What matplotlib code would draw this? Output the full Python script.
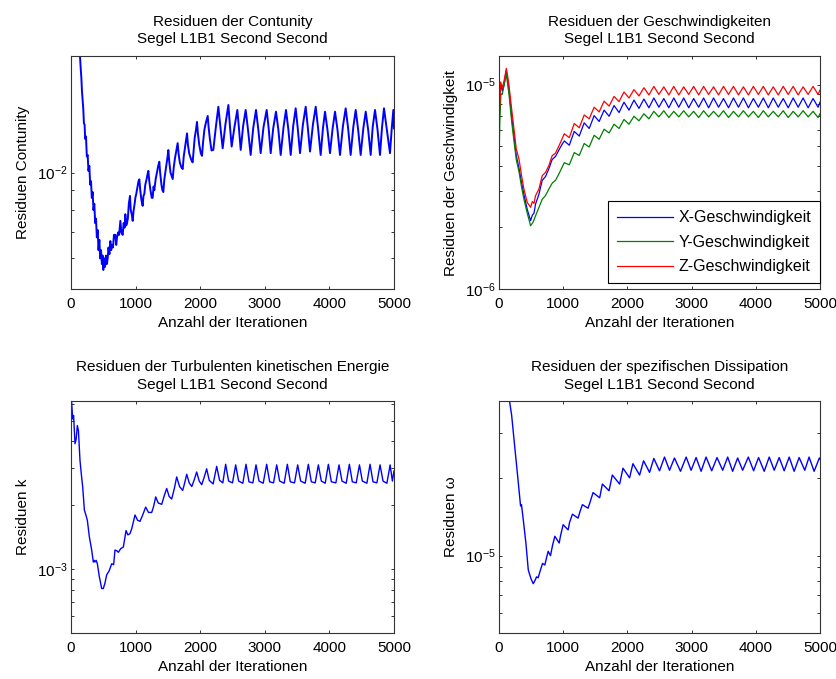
import matplotlib
matplotlib.use("Agg")
import matplotlib.pyplot as plt
from matplotlib.ticker import LogLocator, LogFormatterMathtext, NullFormatter

plt.rcParams["font.family"] = ["Liberation Sans", "DejaVu Sans"]
plt.rcParams["font.size"] = 11
plt.rcParams["axes.unicode_minus"] = False

# continuity residuals (panel 1)
cont_iter = [100, 139, 150, 160, 170, 180, 190, 200, 210, 220, 232, 245, 258, 270, 284, 297,
             310, 322, 335, 348, 361, 374, 387, 400, 413, 426, 439, 452, 465, 478, 490, 500,
             512, 525, 542, 555, 568, 580, 595, 609, 622, 635, 650, 665, 686, 700, 712, 730,
             745, 764, 780, 800, 815, 830, 841, 855, 867, 880, 895, 913, 925, 940, 955, 970,
             985, 996, 1010, 1030, 1045, 1058, 1072, 1090, 1109, 1122, 1135, 1150, 1170, 1185,
             1197, 1212, 1230, 1250, 1264, 1278, 1290, 1310, 1330, 1350, 1367, 1380, 1400, 1415,
             1429, 1445, 1460, 1480, 1495, 1507, 1520, 1540, 1558, 1574, 1590, 1610, 1630, 1651,
             1665, 1685, 1710, 1729, 1745, 1765, 1780, 1796, 1810, 1830, 1860, 1883, 1900, 1915,
             1935, 1950, 1965, 1985, 2010, 2028, 2045, 2065, 2090, 2116, 2130, 2150, 2175,
             2203, 2240, 2281, 2315, 2348, 2390, 2436, 2460, 2487, 2530, 2575, 2600, 2627, 2665,
             2704, 2740, 2781, 2820, 2864, 2900, 2936, 2980, 3029, 3060, 3091, 3130, 3173, 3210,
             3246, 3290, 3328, 3365, 3401, 3440, 3478, 3510, 3545, 3590, 3633, 3665, 3700, 3745,
             3788, 3825, 3865, 3900, 3932, 3970, 4009, 4050, 4087, 4125, 4164, 4210, 4252, 4290,
             4329, 4370, 4407, 4445, 4484, 4525, 4562, 4600, 4639, 4670, 4706, 4745, 4783, 4815,
             4845, 4890, 4938, 4965, 4990, 5000]
cont_val = [0.0260, 0.0200, 0.0186, 0.0176, 0.0162, 0.0154, 0.0146, 0.0134, 0.0133, 0.0122,
            0.0124, 0.0110, 0.0111, 0.0101, 0.0104, 0.0093, 0.0095, 0.0086, 0.0089, 0.0080,
            0.0083, 0.0074, 0.0076, 0.0068, 0.0071, 0.0063, 0.0067, 0.0060, 0.0063, 0.0058,
            0.0061, 0.0056, 0.0060, 0.0057, 0.0061, 0.0058, 0.0060, 0.0064, 0.00615, 0.00665,
            0.0063, 0.0065, 0.0064, 0.0069, 0.0069, 0.0065, 0.0068, 0.0070, 0.0069, 0.0075,
            0.0070, 0.0069, 0.0074, 0.0072, 0.0078, 0.0073, 0.0074, 0.0076, 0.0083, 0.0087,
            0.0080, 0.0078, 0.0075, 0.0080, 0.0083, 0.0086, 0.0088, 0.0092, 0.0095, 0.0096,
            0.0090, 0.0085, 0.0082, 0.0087, 0.0088, 0.0093, 0.0096, 0.0099, 0.0101, 0.0095,
            0.0090, 0.0086, 0.0086, 0.0092, 0.0090, 0.0096, 0.0100, 0.0104, 0.01066, 0.0100,
            0.0093, 0.0090, 0.0089, 0.0096, 0.0100, 0.0106, 0.0110, 0.01143, 0.0107, 0.0100,
            0.0098, 0.00962, 0.0103, 0.0109, 0.0114, 0.01191, 0.0112, 0.0106, 0.0103, 0.01021,
            0.0110, 0.0116, 0.0121, 0.01262, 0.0118, 0.0112, 0.0108, 0.01062, 0.0115, 0.0123,
            0.0129, 0.01351, 0.0126, 0.0118, 0.0112, 0.01104, 0.0120, 0.0129, 0.0135, 0.0140,
            0.0131, 0.0122, 0.0114,
            0.01144, 0.0130, 0.01479, 0.0130, 0.01155, 0.0133, 0.01494, 0.0132, 0.01167, 0.0131,
            0.01451, 0.0130, 0.01144, 0.0132, 0.01451, 0.0129, 0.01110, 0.0130, 0.01451, 0.0129,
            0.01122, 0.0131, 0.01451, 0.0130, 0.01122, 0.0130, 0.01436, 0.0129, 0.01110, 0.0131,
            0.01451, 0.0129, 0.01110, 0.0132, 0.01465, 0.0130, 0.01122, 0.0133, 0.01479, 0.0131,
            0.01133, 0.0133, 0.01479, 0.0130, 0.01110, 0.0130, 0.01436, 0.0129, 0.01122, 0.0130,
            0.01436, 0.0129, 0.01110, 0.0132, 0.01465, 0.0130, 0.01110, 0.0131, 0.01451, 0.0129,
            0.01110, 0.0130, 0.01436, 0.0129, 0.01110, 0.0131, 0.01451, 0.0129, 0.01110, 0.0131,
            0.01465, 0.0129, 0.01122, 0.0130, 0.01451, 0.0130]

# velocity residuals (panel 2): start-up part
vx_iter = [0, 26, 52, 80, 114, 135, 155, 197, 233, 269, 311, 352, 388, 440, 492, 520, 545,
           569, 621, 673, 725, 776, 828, 880, 958]
vx_val = [8.0e-6, 1.0e-5, 9.3e-6, 1.0e-5, 1.17e-5, 1.05e-5, 9.5e-6, 7.0e-6, 5.6e-6, 4.5e-6,
          3.9e-6, 3.3e-6, 2.9e-6, 2.45e-6, 2.16e-6, 2.3e-6, 2.35e-6, 2.6e-6, 2.9e-6, 3.4e-6,
          3.55e-6, 3.87e-6, 4.3e-6, 4.45e-6, 4.95e-6]
vy_iter = [0, 12, 30, 52, 80, 114, 135, 155, 197, 233, 269, 311, 352, 388, 440, 492, 530,
           569, 621, 673, 720, 776, 830, 880, 932]
vy_val = [4.0e-6, 6.5e-6, 9.0e-6, 9.0e-6, 1.0e-5, 1.13e-5, 1.0e-5, 9.0e-6, 6.6e-6, 5.3e-6,
          4.3e-6, 3.75e-6, 3.15e-6, 2.75e-6, 2.35e-6, 2.04e-6, 2.12e-6, 2.28e-6, 2.5e-6,
          2.75e-6, 2.85e-6, 3.08e-6, 3.3e-6, 3.4e-6, 3.65e-6]
vz_iter = [0, 26, 52, 80, 114, 135, 155, 197, 233, 269, 311, 352, 388, 440, 492, 520, 545,
           569, 621, 673, 725, 776, 828, 880, 958]
vz_val = [6.5e-6, 1.03e-5, 9.6e-6, 1.05e-5, 1.2e-5, 1.1e-5, 9.9e-6, 7.6e-6, 6.07e-6, 4.84e-6,
          4.33e-6, 3.58e-6, 3.08e-6, 2.65e-6, 2.51e-6, 2.68e-6, 2.62e-6, 2.86e-6, 3.08e-6,
          3.58e-6, 3.72e-6, 4.01e-6, 4.49e-6, 4.62e-6, 5.21e-6]

# velocity residuals: peaks and troughs of the oscillation (all three in phase), in 1e-6
wave_iter = [1017, 1095, 1172, 1250, 1327, 1405, 1482, 1560, 1637, 1715, 1792, 1870, 1947,
             2025, 2102, 2180, 2257, 2335, 2412, 2490, 2567, 2645, 2722, 2800, 2877, 2955,
             3032, 3110, 3187, 3265, 3342, 3420, 3497, 3575, 3652, 3730, 3807, 3885, 3962,
             4040, 4117, 4195, 4272, 4350, 4427, 4505, 4582, 4660, 4737, 4815, 4892, 4970, 5000]
wave_vx = [5.3, 5.05, 5.9, 5.6, 6.5, 6.1, 7.05, 6.6, 7.5, 7.0, 7.9, 7.3, 8.2, 7.5, 8.4, 7.65,
           8.5, 7.7,
           8.6, 7.75, 8.55, 7.7, 8.6, 7.75, 8.6, 7.7, 8.55, 7.75, 8.6, 7.7, 8.6, 7.75, 8.55, 7.7,
           8.6, 7.75, 8.6, 7.7, 8.55, 7.75, 8.6, 7.7, 8.6, 7.75, 8.55, 7.7, 8.6, 7.75, 8.6, 7.7,
           8.55, 7.75, 8.2]
wave_vy = [4.15, 4.05, 4.65, 4.5, 5.15, 4.95, 5.65, 5.4, 6.05, 5.8, 6.4, 6.1, 6.75, 6.4, 7.0,
           6.65, 7.2, 6.8,
           7.4, 6.95, 7.45, 6.9, 7.4, 6.95, 7.45, 6.95, 7.4, 6.9, 7.45, 6.95, 7.4, 6.95, 7.45,
           6.9, 7.4, 6.95, 7.45, 6.95, 7.4, 6.9, 7.45, 6.95, 7.4, 6.95, 7.45, 6.9, 7.4, 6.95,
           7.45, 6.95, 7.4, 6.9, 7.2]
wave_vz = [5.75, 5.5, 6.45, 6.15, 7.1, 6.8, 7.75, 7.35, 8.3, 7.85, 8.75, 8.25, 9.2, 8.6, 9.45,
           8.8, 9.65, 8.9,
           9.8, 8.95, 9.75, 8.9, 9.8, 8.9, 9.75, 8.95, 9.8, 8.9, 9.8, 8.95, 9.75, 8.9, 9.8, 8.95,
           9.8, 8.9, 9.75, 8.9, 9.8, 8.95, 9.8, 8.9, 9.75, 8.9, 9.8, 8.95, 9.8, 8.9, 9.75, 8.95,
           9.8, 8.95, 9.4]

# turbulent kinetic energy residuals (panel 3)
k_iter = [0, 10, 26, 40, 62, 80, 98, 115, 139, 160, 181, 207, 230, 253, 284, 320, 346, 360,
          371, 390, 408, 439, 475, 500, 526, 552, 590, 630, 660, 681, 710, 733, 770, 810, 852,
          880, 913, 940, 991, 1030, 1068, 1110, 1156, 1200, 1249, 1280, 1311, 1350, 1404,
          1440, 1481, 1520, 1558, 1600, 1636, 1680, 1729, 1760, 1791, 1830, 1870, 1910, 1945,
          1985, 2023, 2060, 2100, 2140, 2200, 2255, 2300, 2350, 2394, 2440, 2500, 2549, 2595,
          2660, 2709, 2755, 2815, 2864, 2910, 2975, 3029, 3075, 3135, 3184, 3230, 3300, 3349,
          3395, 3460, 3509, 3555, 3625, 3674, 3720, 3780, 3829, 3875, 3935, 3984, 4030, 4100,
          4149, 4195, 4260, 4309, 4355, 4415, 4465, 4510, 4580, 4629, 4675, 4735, 4784, 4830,
          4890, 4940, 4975, 5000]
k_val = [6.6e-3, 6.1e-3, 5.1e-3, 5.3e-3, 3.9e-3, 4.1e-3, 4.75e-3, 4.5e-3, 3.26e-3, 2.8e-3,
         2.44e-3, 1.9e-3, 1.8e-3, 1.7e-3, 1.42e-3, 1.23e-3, 1.08e-3, 1.1e-3, 1.08e-3, 1.1e-3,
         1.06e-3, 9.2e-4, 8.1e-4, 8.1e-4, 8.6e-4, 9.4e-4, 9.8e-4, 1.06e-3, 1.05e-3, 1.23e-3,
         1.22e-3, 1.2e-3, 1.25e-3, 1.27e-3, 1.52e-3, 1.45e-3, 1.47e-3, 1.55e-3, 1.8e-3,
         1.7e-3, 1.68e-3, 1.8e-3, 1.96e-3, 1.85e-3, 1.85e-3, 1.98e-3, 2.19e-3, 2.05e-3,
         2.02e-3, 2.2e-3, 2.4e-3, 2.2e-3, 2.14e-3, 2.4e-3, 2.72e-3, 2.45e-3, 2.35e-3, 2.55e-3,
         2.8e-3, 2.55e-3, 2.45e-3, 2.65e-3, 2.87e-3, 2.6e-3, 2.5e-3, 2.7e-3, 2.97e-3, 2.62e-3,
         2.52e-3, 3.05e-3, 2.62e-3, 2.55e-3, 3.12e-3, 2.6e-3, 2.55e-3, 3.1e-3, 2.6e-3, 2.54e-3,
         3.12e-3, 2.58e-3, 2.55e-3, 3.1e-3, 2.6e-3, 2.54e-3, 3.12e-3, 2.58e-3, 2.55e-3, 3.1e-3,
         2.6e-3, 2.54e-3, 3.12e-3, 2.58e-3, 2.55e-3, 3.1e-3, 2.6e-3, 2.54e-3, 3.12e-3, 2.58e-3,
         2.55e-3, 3.1e-3, 2.6e-3, 2.54e-3, 3.12e-3, 2.58e-3, 2.55e-3, 3.1e-3, 2.6e-3, 2.54e-3,
         3.12e-3, 2.58e-3, 2.55e-3, 3.1e-3, 2.6e-3, 2.54e-3, 3.12e-3, 2.58e-3, 2.55e-3, 3.1e-3,
         2.6e-3, 2.54e-3, 3.1e-3, 2.6e-3, 2.9e-3]

# specific dissipation residuals (panel 4)
w_iter = [0, 100, 160, 197, 248, 300, 336, 350, 378, 419, 456, 497, 533, 560, 585, 610, 637,
          678, 714, 740, 766, 802, 835, 870, 937, 960, 999, 1077, 1100, 1144, 1232, 1260, 1299,
          1387, 1420, 1465, 1568, 1610, 1714, 1765, 1879, 1931, 2034, 2086, 2190, 2252, 2345,
          2412, 2500, 2578, 2656, 2733, 2827, 2915, 2992, 3070, 3148, 3225, 3313, 3396, 3484,
          3562, 3639, 3717, 3795, 3883, 3966, 4043, 4131, 4209, 4287, 4364, 4442, 4520, 4597,
          4675, 4763, 4830, 4908, 4990, 5000]
w_val = [8.0e-5, 5.2e-5, 4.06e-5, 3.52e-5, 2.61e-5, 1.93e-5, 1.56e-5, 1.58e-5, 1.38e-5,
         1.12e-5, 8.8e-6, 8.15e-6, 7.78e-6, 8.0e-6, 8.27e-6, 8.2e-6, 8.65e-6, 9.33e-6, 9.2e-6,
         9.8e-6, 1.04e-5, 1.0e-5, 1.1e-5, 1.19e-5, 1.12e-5, 1.2e-5, 1.32e-5, 1.26e-5, 1.35e-5,
         1.45e-5, 1.4e-5, 1.48e-5, 1.58e-5, 1.53e-5, 1.62e-5, 1.76e-5, 1.68e-5, 1.9e-5,
         1.79e-5, 2.06e-5, 1.9e-5, 2.19e-5, 2.01e-5, 2.28e-5, 2.06e-5, 2.34e-5, 2.11e-5,
         2.39e-5, 2.14e-5, 2.42e-5, 2.15e-5, 2.4e-5, 2.13e-5, 2.42e-5, 2.15e-5, 2.41e-5,
         2.13e-5, 2.42e-5, 2.14e-5, 2.41e-5, 2.15e-5, 2.42e-5, 2.13e-5, 2.4e-5, 2.15e-5,
         2.42e-5, 2.14e-5, 2.41e-5, 2.13e-5, 2.42e-5, 2.15e-5, 2.41e-5, 2.14e-5, 2.42e-5,
         2.13e-5, 2.41e-5, 2.15e-5, 2.42e-5, 2.13e-5, 2.4e-5, 2.38e-5]

subtitle = "Segel L1B1 Second Second"
xlabel = "Anzahl der Iterationen"
x_ticks = [0, 1000, 2000, 3000, 4000, 5000]


def style_axis(ax, title, ylabel, ylim):
    ax.set_yscale("log")
    ax.set_xlim(0, 5000)
    ax.set_ylim(*ylim)
    ax.set_xticks(x_ticks)
    ax.yaxis.set_major_locator(LogLocator(base=10))
    ax.yaxis.set_major_formatter(LogFormatterMathtext())
    ax.yaxis.set_minor_locator(LogLocator(base=10, subs=range(2, 10)))
    ax.yaxis.set_minor_formatter(NullFormatter())
    ax.tick_params(which="both", direction="in", top=True, right=True,
                   length=2.4, width=0.7, color="#333333")
    ax.tick_params(axis="x", pad=5.5)
    ax.tick_params(axis="y", pad=2.5)
    for s in ax.spines.values():
        s.set_color("#333333")
        s.set_linewidth(0.8)
    ax.set_title(title + "\n" + subtitle, pad=9, linespacing=1.3, fontsize=11)
    ax.set_xlabel(xlabel, labelpad=4)
    ax.set_ylabel(ylabel, labelpad=5)


fig = plt.figure(figsize=(8.36, 6.79), dpi=100)
W, H = 836, 679
ax1 = fig.add_axes([71 / W, 1 - 289 / H, 323 / W, 233 / H])
ax2 = fig.add_axes([499 / W, 1 - 289 / H, 321 / W, 233 / H])
ax3 = fig.add_axes([71 / W, 1 - 633 / H, 323 / W, 232 / H])
ax4 = fig.add_axes([499 / W, 1 - 633 / H, 321 / W, 232 / H])

ax1.plot(cont_iter, cont_val, color="#0000ff", lw=1.4)
style_axis(ax1, "Residuen der Contunity", "Residuen Contunity", (5e-3, 2e-2))

vx_all_i = vx_iter + wave_iter
vx_all_v = vx_val + [v * 1e-6 for v in wave_vx]
vy_all_i = vy_iter + wave_iter
vy_all_v = vy_val + [v * 1e-6 for v in wave_vy]
vz_all_i = vz_iter + wave_iter
vz_all_v = vz_val + [v * 1e-6 for v in wave_vz]
ax2.plot(vx_all_i, vx_all_v, color="#0000ff", lw=0.9, label="X-Geschwindigkeit")
ax2.plot(vy_all_i, vy_all_v, color="#008000", lw=0.9, label="Y-Geschwindigkeit")
ax2.plot(vz_all_i, vz_all_v, color="#ff0000", lw=0.9, label="Z-Geschwindigkeit")
style_axis(ax2, "Residuen der Geschwindigkeiten", "Residuen der Geschwindigkeit",
           (1e-6, 1.38e-5))
leg = ax2.legend(loc="lower right", bbox_to_anchor=(1.0, 0.025), borderaxespad=0,
                 fancybox=False, framealpha=1, edgecolor="black", handlelength=3.5,
                 handletextpad=0.35, labelspacing=0.6, borderpad=0.55, fontsize=11.5)
leg.get_frame().set_linewidth(0.8)

ax3.plot(k_iter, k_val, color="#0000ff", lw=1.0)
style_axis(ax3, "Residuen der Turbulenten kinetischen Energie", "Residuen k", (5e-4, 6.2e-3))

ax4.plot(w_iter, w_val, color="#0000ff", lw=1.0)
style_axis(ax4, "Residuen der spezifischen Dissipation", "Residuen \u03c9", (5e-6, 4e-5))

fig.savefig("out.png", dpi=100)
